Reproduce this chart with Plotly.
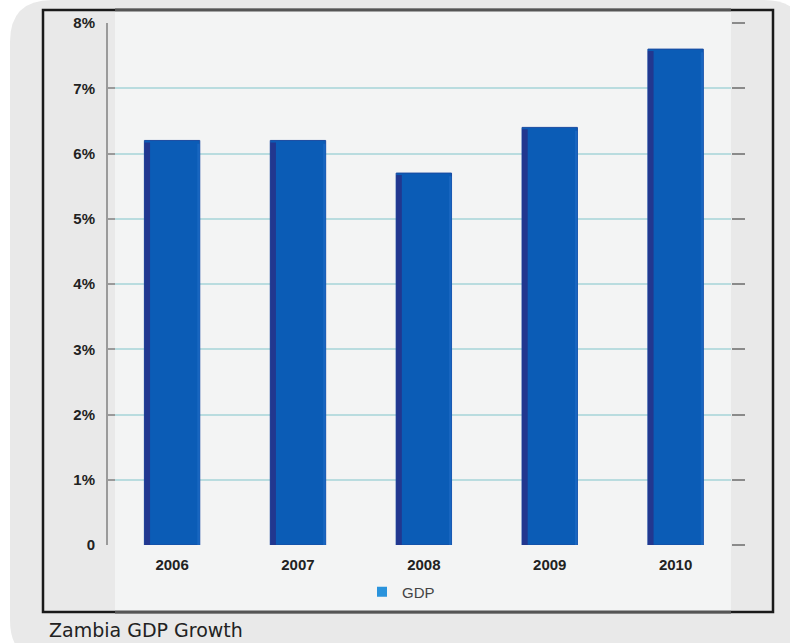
import plotly.graph_objects as go

# GDP growth by year (%)
years = ["2006", "2007", "2008", "2009", "2010"]
gdp_growth = [6.2, 6.2, 5.7, 6.4, 7.6]
y_tick_vals = [0, 1, 2, 3, 4, 5, 6, 7, 8]
y_tick_text = ["0", "1%", "2%", "3%", "4%", "5%", "6%", "7%", "8%"]
caption = "Zambia GDP Growth"

W, H = 790, 643
BAR_W = 0.44


def px(x):
    return x / W


def py(y):
    return (H - y) / H


def rounded_rect(x0, y0, x1, y1, r):
    return (
        f"M {px(x0 + r)},{py(y0)} L {px(x1 - r)},{py(y0)} "
        f"Q {px(x1)},{py(y0)} {px(x1)},{py(y0 + r)} "
        f"L {px(x1)},{py(y1 - r)} Q {px(x1)},{py(y1)} {px(x1 - r)},{py(y1)} "
        f"L {px(x0 + r)},{py(y1)} Q {px(x0)},{py(y1)} {px(x0)},{py(y1 - r)} "
        f"L {px(x0)},{py(y0 + r)} Q {px(x0)},{py(y0)} {px(x0 + r)},{py(y0)} Z"
    )


fig = go.Figure()

# main bars
fig.add_trace(go.Bar(
    x=years, y=gdp_growth, width=BAR_W, offset=-BAR_W / 2,
    marker=dict(color="#0b5cb6", line=dict(color="#1a4aa0", width=1)),
    showlegend=False, hoverinfo="skip",
))
# dark shaded left face
fig.add_trace(go.Bar(
    x=years, y=[v - 0.03 for v in gdp_growth], width=0.045, offset=-BAR_W / 2,
    marker=dict(color="#22378f", line=dict(width=0)),
    showlegend=False, hoverinfo="skip",
))
# slightly lighter right rim
fig.add_trace(go.Bar(
    x=years, y=[v - 0.05 for v in gdp_growth], width=0.02, offset=BAR_W / 2 - 0.02,
    marker=dict(color="#1866c0", line=dict(width=0)),
    showlegend=False, hoverinfo="skip",
))
# legend entry
fig.add_trace(go.Scatter(
    x=[None], y=[None], mode="markers", name="GDP",
    marker=dict(symbol="square", size=10, color="#2a93dc"),
))
# carrier for the right-hand tick marks
fig.add_trace(go.Scatter(
    x=years, y=gdp_growth, yaxis="y2", mode="markers",
    marker=dict(opacity=0), showlegend=False, hoverinfo="skip",
))

shapes = [
    dict(type="path", path=rounded_rect(10, 0, 806, 662, 42),
         xref="paper", yref="paper", fillcolor="#e9e9e9", line=dict(width=0), layer="below"),
    dict(type="rect", xref="paper", yref="paper", x0=px(43), x1=px(773), y0=py(612), y1=py(10),
         line=dict(color="#1a1a1a", width=2.5), fillcolor="rgba(0,0,0,0)", layer="below"),
    dict(type="rect", xref="paper", yref="paper", x0=px(115), x1=px(731), y0=py(612), y1=py(10),
         line=dict(width=0), fillcolor="#f3f4f4", layer="below"),
    dict(type="line", xref="paper", yref="paper", x0=px(115), x1=px(731), y0=py(10), y1=py(10),
         line=dict(color="#555555", width=3), layer="below"),
    dict(type="line", xref="paper", yref="paper", x0=px(115), x1=px(731), y0=py(612), y1=py(612),
         line=dict(color="#555555", width=3), layer="below"),
]

fig.update_layout(
    width=W, height=H,
    margin=dict(l=0, r=0, t=0, b=0, autoexpand=False),
    paper_bgcolor="white", plot_bgcolor="rgba(0,0,0,0)",
    barmode="overlay",
    shapes=shapes,
    font=dict(family="Liberation Sans, Arial, sans-serif"),
    xaxis=dict(
        domain=[px(115), px(731)], anchor="y",
        type="category", range=[-0.4535, 4.44],
        showline=False, showgrid=False, ticks="", zeroline=False,
        tickfont=dict(size=15, color="#222222", weight="bold"),
        ticklabelstandoff=9,
    ),
    yaxis=dict(
        domain=[py(545), py(23)], anchor="free", position=px(107),
        range=[0, 8], tickvals=y_tick_vals, ticktext=y_tick_text,
        showline=True, linecolor="#9a9a9a", linewidth=2,
        ticks="inside", ticklen=7, tickcolor="#9a9a9a", tickwidth=2,
        showgrid=True, gridcolor="#b9dcdf", gridwidth=1.5, zeroline=False,
        tickfont=dict(size=15, color="#222222", weight="bold"),
        ticklabelstandoff=8,
    ),
    yaxis2=dict(
        overlaying="y", matches="y", anchor="free", position=px(731), side="right",
        range=[0, 8], tickvals=y_tick_vals, showticklabels=False,
        ticks="outside", ticklen=13, tickcolor="#8a8a8a", tickwidth=1.5,
        showgrid=False, showline=False, zeroline=False,
    ),
    legend=dict(
        x=px(362), y=py(592), xanchor="left", yanchor="middle",
        bgcolor="rgba(0,0,0,0)", font=dict(size=15, color="#444444"),
        itemwidth=30,
    ),
    annotations=[dict(
        text=caption, xref="paper", yref="paper", x=px(47), y=py(630),
        xanchor="left", yanchor="middle", showarrow=False,
        font=dict(size=19, color="#222222", family="DejaVu Sans"),
    )],
)

fig.write_html("out.html")
